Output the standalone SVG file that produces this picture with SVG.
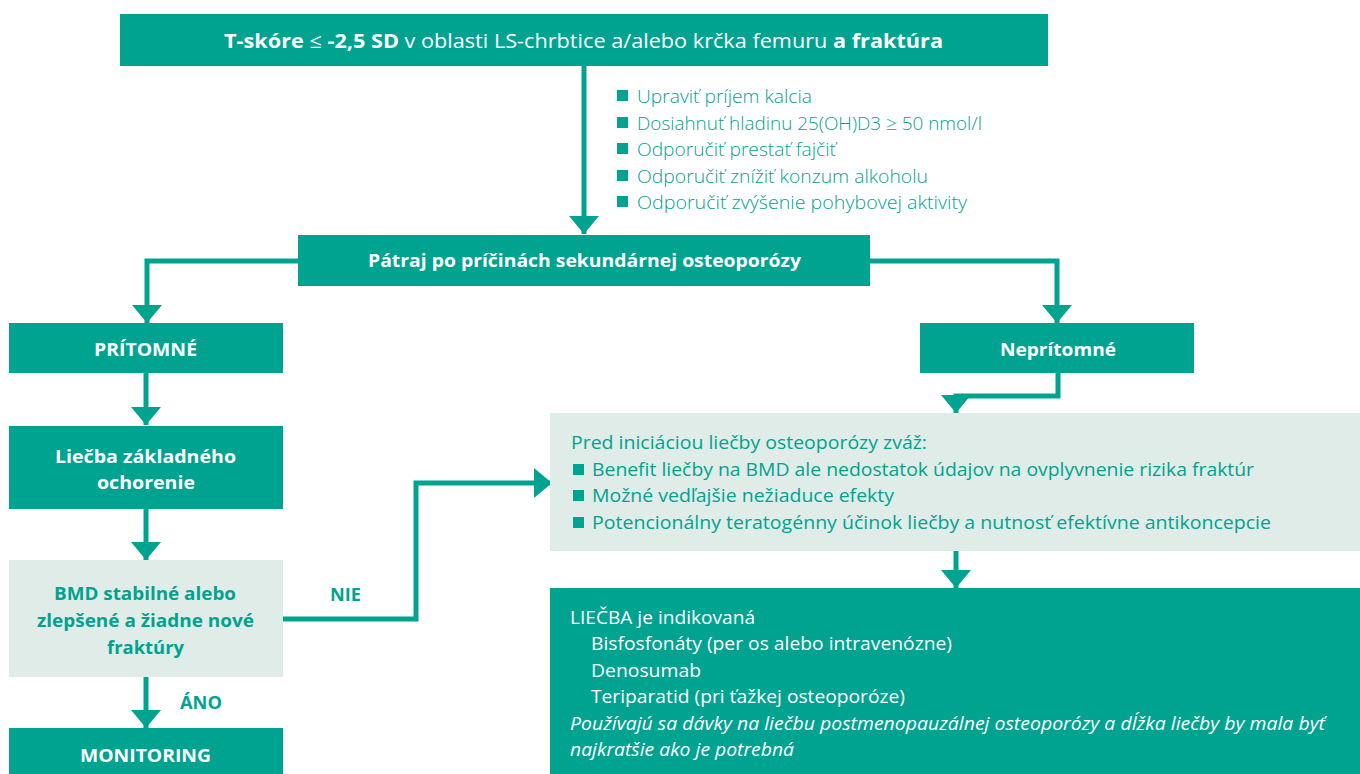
<svg xmlns="http://www.w3.org/2000/svg" width="1360" height="774" viewBox="0 0 1360 774">
<style>
.box{fill:#00a390}
.lbox{fill:#dfece8}
.t{font-family:"Open Sans","Noto Sans","Liberation Sans",sans-serif}
.w{fill:#ffffff}
.g{fill:#00a390}
.b{font-weight:bold}
.l{font-weight:300}
.con{fill:none;stroke:#00a390;stroke-width:5}
.sq{fill:#00a390}
</style>
<defs>
<marker id="ah" markerUnits="userSpaceOnUse" markerWidth="18" markerHeight="30" viewBox="0 0 18 30" refX="18" refY="15" orient="auto">
<path d="M0,0 L18,15 L0,30 z" fill="#00a390"/>
</marker>
</defs>
<rect width="1360" height="774" fill="#ffffff"/>

<g id="connectors">
<path class="con" d="M584,66 V234" marker-end="url(#ah)"/>
<path class="con" d="M298,261 H147 V323" marker-end="url(#ah)"/>
<path class="con" d="M870,261 H1057 V323" marker-end="url(#ah)"/>
<path class="con" d="M146,373 V425" marker-end="url(#ah)"/>
<path class="con" d="M146,509 V560" marker-end="url(#ah)"/>
<path class="con" d="M146,677 V728" marker-end="url(#ah)"/>
<path class="con" d="M1058,373 V396 H956 V413" marker-end="url(#ah)"/>
<path class="con" d="M956,551 V588" marker-end="url(#ah)"/>
<path class="con" d="M282,619 H416 V483 H552" marker-end="url(#ah)"/>
<text class="t g b" x="330" y="601" font-size="18" textLength="31" lengthAdjust="spacingAndGlyphs">NIE</text>
<text class="t g b" x="180" y="709" font-size="18" textLength="42" lengthAdjust="spacingAndGlyphs">ÁNO</text>
</g>

<g id="n-tscore">
<rect class="box" x="120" y="14" width="928" height="52"/>
<text class="t w" x="224" y="48" font-size="20" textLength="719" lengthAdjust="spacingAndGlyphs"><tspan class="b">T-skóre</tspan> ≤ <tspan class="b">-2,5 SD</tspan> v oblasti LS-chrbtice a/alebo krčka femuru <tspan class="b">a fraktúra</tspan></text>
</g>

<g id="n-opatrenia">
<rect class="sq" x="617" y="90" width="11" height="11"/>
<text class="t g l" x="637" y="103" font-size="19" textLength="175" lengthAdjust="spacingAndGlyphs">Upraviť príjem kalcia</text>
<rect class="sq" x="617" y="117" width="11" height="11"/>
<text class="t g l" x="637" y="130" font-size="19" textLength="345" lengthAdjust="spacingAndGlyphs">Dosiahnuť hladinu 25(OH)D3 ≥ 50 nmol/l</text>
<rect class="sq" x="617" y="143" width="11" height="11"/>
<text class="t g l" x="637" y="156" font-size="19" textLength="199" lengthAdjust="spacingAndGlyphs">Odporučiť prestať fajčiť</text>
<rect class="sq" x="617" y="170" width="11" height="11"/>
<text class="t g l" x="637" y="183" font-size="19" textLength="291" lengthAdjust="spacingAndGlyphs">Odporučiť znížiť konzum alkoholu</text>
<rect class="sq" x="617" y="196" width="11" height="11"/>
<text class="t g l" x="637" y="209" font-size="19" textLength="330" lengthAdjust="spacingAndGlyphs">Odporučiť zvýšenie pohybovej aktivity</text>
</g>

<g id="n-patraj">
<rect class="box" x="298" y="235" width="572" height="51"/>
<text class="t w b" x="368" y="267" font-size="17" textLength="433" lengthAdjust="spacingAndGlyphs">Pátraj po príčinách sekundárnej osteoporózy</text>
</g>

<g id="n-pritomne">
<rect class="box" x="9" y="323" width="274" height="50"/>
<text class="t w b" x="94" y="356" font-size="17" textLength="103" lengthAdjust="spacingAndGlyphs">PRÍTOMNÉ</text>
</g>

<g id="n-nepritomne">
<rect class="box" x="920" y="323" width="274" height="50"/>
<text class="t w b" x="1000" y="356" font-size="17" textLength="116" lengthAdjust="spacingAndGlyphs">Neprítomné</text>
</g>

<g id="n-liecba-zakl">
<rect class="box" x="9" y="426" width="274" height="83"/>
<text class="t w b" x="55" y="463" font-size="18" textLength="181" lengthAdjust="spacingAndGlyphs">Liečba základného</text>
<text class="t w b" x="97" y="489" font-size="18" textLength="98" lengthAdjust="spacingAndGlyphs">ochorenie</text>
</g>

<g id="n-bmd">
<rect class="lbox" x="9" y="560" width="274" height="117"/>
<text class="t g b" x="54" y="600" font-size="18" textLength="182" lengthAdjust="spacingAndGlyphs">BMD stabilné alebo</text>
<text class="t g b" x="37" y="627" font-size="18" textLength="217" lengthAdjust="spacingAndGlyphs">zlepšené a žiadne nové</text>
<text class="t g b" x="107" y="654" font-size="18" textLength="77" lengthAdjust="spacingAndGlyphs">fraktúry</text>
</g>

<g id="n-monitoring">
<rect class="box" x="9" y="728" width="274" height="46"/>
<text class="t w b" x="80" y="762" font-size="18" textLength="131" lengthAdjust="spacingAndGlyphs">MONITORING</text>
</g>

<g id="n-zvaz">
<rect class="lbox" x="550" y="413" width="810" height="138"/>
<text class="t g" x="571" y="449" font-size="18.5" textLength="356" lengthAdjust="spacingAndGlyphs">Pred iniciáciou liečby osteoporózy zváž:</text>
<rect class="sq" x="573" y="464" width="11" height="11"/>
<text class="t g" x="592" y="476" font-size="18.5" textLength="662" lengthAdjust="spacingAndGlyphs">Benefit liečby na BMD ale nedostatok údajov na ovplyvnenie rizika fraktúr</text>
<rect class="sq" x="573" y="490" width="11" height="11"/>
<text class="t g" x="592" y="502" font-size="18.5" textLength="302" lengthAdjust="spacingAndGlyphs">Možné vedľajšie nežiaduce efekty</text>
<rect class="sq" x="573" y="517" width="11" height="11"/>
<text class="t g" x="592" y="529" font-size="18.5" textLength="679" lengthAdjust="spacingAndGlyphs">Potencionálny teratogénny účinok liečby a nutnosť efektívne antikoncepcie</text>
</g>

<g id="n-liecba">
<rect class="box" x="550" y="588" width="810" height="186"/>
<text class="t w" x="570" y="624" font-size="18.5" textLength="185" lengthAdjust="spacingAndGlyphs">LIEČBA je indikovaná</text>
<text class="t w" x="591" y="650" font-size="18.5" textLength="361" lengthAdjust="spacingAndGlyphs">Bisfosfonáty (per os alebo intravenózne)</text>
<text class="t w" x="591" y="677" font-size="18.5" textLength="110" lengthAdjust="spacingAndGlyphs">Denosumab</text>
<text class="t w" x="591" y="703" font-size="18.5" textLength="314" lengthAdjust="spacingAndGlyphs">Teriparatid (pri ťažkej osteoporóze)</text>
<text class="t w" x="570" y="730" font-size="18.5" font-style="italic" textLength="755" lengthAdjust="spacingAndGlyphs">Používajú sa dávky na liečbu postmenopauzálnej osteoporózy a dĺžka liečby by mala byť</text>
<text class="t w" x="570" y="756" font-size="18.5" font-style="italic" textLength="224" lengthAdjust="spacingAndGlyphs">najkratšie ako je potrebná</text>
</g>
</svg>
